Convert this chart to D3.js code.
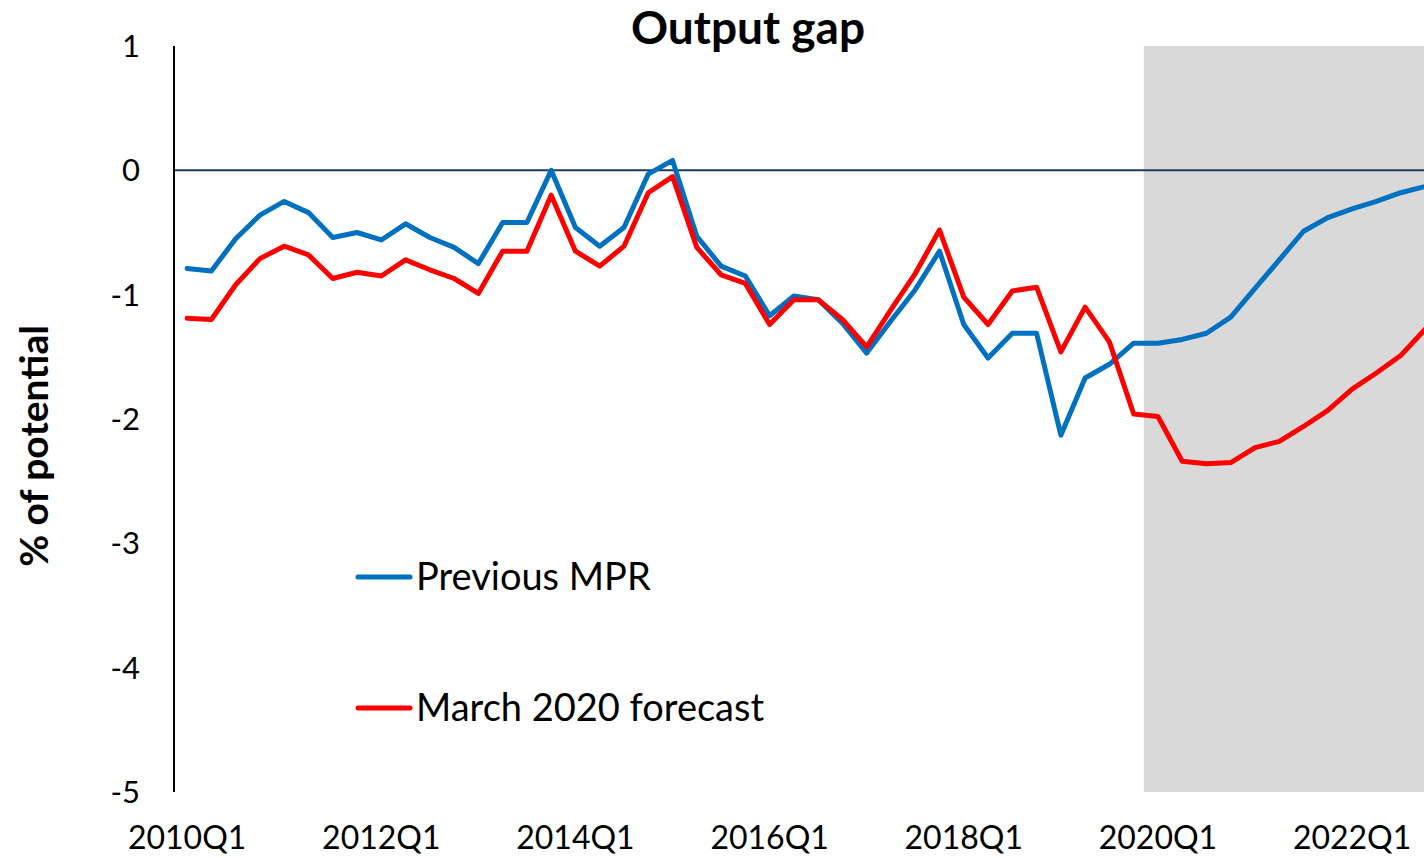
<!DOCTYPE html>
<html>
<head>
<meta charset="utf-8">
<script src="https://cdn.jsdelivr.net/npm/d3@7"></script>
<style>
  html, body { margin: 0; padding: 0; background: #fff; overflow: hidden; }
  svg { display: block; font-family: Lato, "Open Sans", sans-serif; }
</style>
</head>
<body>
<svg id="chart" width="1424" height="858"></svg>
<script>
// quarters 2010Q1 .. 2022Q4
const years = [2010, 2011, 2012, 2013, 2014, 2015, 2016, 2017, 2018, 2019, 2020, 2021, 2022];
const quarters = years.flatMap(y => ["Q1", "Q2", "Q3", "Q4"].map(q => y + q));

const previousMPR = [
  -0.79, -0.81, -0.55, -0.36, -0.25, -0.34, -0.54, -0.50, -0.56, -0.43, -0.54, -0.62,
  -0.75, -0.42, -0.42, 0.00, -0.46, -0.61, -0.46, -0.03, 0.08, -0.53, -0.77, -0.85,
  -1.17, -1.01, -1.04, -1.23, -1.47, -1.21, -0.96, -0.65, -1.24, -1.51, -1.31, -1.31,
  -2.13, -1.67, -1.56, -1.39, -1.39, -1.36, -1.31, -1.18, -0.95, -0.72, -0.49, -0.38,
  -0.31, -0.25, -0.18, -0.13
];
const march2020 = [
  -1.19, -1.20, -0.92, -0.71, -0.61, -0.68, -0.87, -0.82, -0.85, -0.72, -0.80, -0.87,
  -0.99, -0.65, -0.65, -0.20, -0.65, -0.77, -0.61, -0.18, -0.05, -0.62, -0.84, -0.91,
  -1.24, -1.04, -1.04, -1.20, -1.42, -1.12, -0.83, -0.48, -1.02, -1.24, -0.97, -0.94,
  -1.46, -1.10, -1.38, -1.96, -1.98, -2.34, -2.36, -2.35, -2.23, -2.18, -2.06, -1.93,
  -1.76, -1.63, -1.49, -1.28
];
const yTicks = [1, 0, -1, -2, -3, -4, -5];
const xTickLabels = ["2010Q1", "2012Q1", "2014Q1", "2016Q1", "2018Q1", "2020Q1", "2022Q1"];
const forecastStart = "2020Q1";

const series = [
  { name: "Previous MPR", values: previousMPR, color: "#0070C0" },
  { name: "March 2020 forecast", values: march2020, color: "#FF0000" }
];

(function() {
  const svg = d3.select("#chart");
  const plotLeft = 175, plotTop = 46, plotBottom = 792;
  const step = 24.27;

  const x = d3.scaleBand()
    .domain(quarters)
    .range([plotLeft, plotLeft + quarters.length * step]);

  const y = d3.scaleLinear()
    .domain([-5, 1])
    .range([plotBottom, plotTop]);

  // forecast shading
  svg.append("rect")
    .attr("x", x(forecastStart) - 2)
    .attr("y", y(1))
    .attr("width", x.range()[1] - x(forecastStart) + 2)
    .attr("height", y(-5) - y(1))
    .attr("fill", "#D9D9D9");

  // zero line
  svg.append("line")
    .attr("x1", plotLeft).attr("x2", x.range()[1])
    .attr("y1", y(0)).attr("y2", y(0))
    .attr("stroke", "#1F3864")
    .attr("stroke-width", 2);

  // y axis line
  svg.append("line")
    .attr("x1", plotLeft - 1).attr("x2", plotLeft - 1)
    .attr("y1", y(1)).attr("y2", y(-5))
    .attr("stroke", "#000")
    .attr("stroke-width", 2);

  // y tick labels
  svg.append("g").selectAll("text")
    .data(yTicks)
    .join("text")
    .attr("x", 140)
    .attr("y", d => y(d))
    .attr("dy", "0.35em")
    .attr("text-anchor", "end")
    .attr("font-size", 31)
    .attr("fill", "#000")
    .text(d => d);

  // x tick labels
  svg.append("g").selectAll("text")
    .data(xTickLabels)
    .join("text")
    .attr("x", d => x(d) + x.bandwidth() / 2)
    .attr("y", 838)
    .attr("dy", "0.35em")
    .attr("text-anchor", "middle")
    .attr("font-size", 32)
    .attr("fill", "#000")
    .text(d => d);

  // lines
  const line = d3.line()
    .x((d, i) => x(quarters[i]) + x.bandwidth() / 2)
    .y(d => y(d));

  svg.append("g").selectAll("path")
    .data(series)
    .join("path")
    .attr("d", d => line(d.values))
    .attr("fill", "none")
    .attr("stroke", d => d.color)
    .attr("stroke-width", 5)
    .attr("stroke-linejoin", "round")
    .attr("stroke-linecap", "round");

  // title
  svg.append("text")
    .attr("x", 748)
    .attr("y", 44)
    .attr("text-anchor", "middle")
    .attr("font-size", 46)
    .attr("font-weight", "bold")
    .text("Output gap");

  // y axis title
  svg.append("text")
    .attr("transform", "translate(34,446) rotate(-90)")
    .attr("dy", "0.35em")
    .attr("text-anchor", "middle")
    .attr("font-size", 39)
    .attr("font-weight", "bold")
    .text("% of potential");

  // legend
  const legend = svg.append("g").selectAll("g")
    .data(series)
    .join("g")
    .attr("transform", (d, i) => `translate(358,${577 + i * 131})`);

  legend.append("line")
    .attr("x1", 0).attr("x2", 52)
    .attr("stroke", d => d.color)
    .attr("stroke-width", 5)
    .attr("stroke-linecap", "round");

  legend.append("text")
    .attr("x", 58)
    .attr("dy", "0.35em")
    .attr("font-size", 38)
    .text(d => d.name);
})();
</script>
</body>
</html>
